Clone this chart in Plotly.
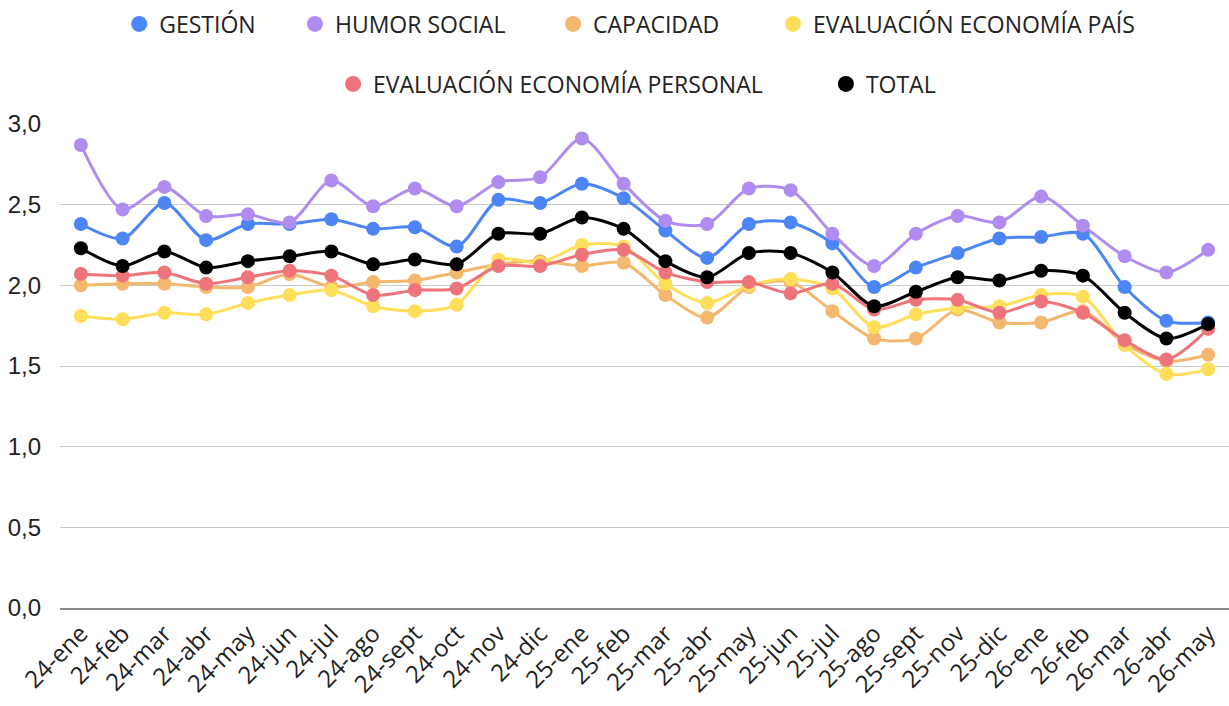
import plotly.graph_objects as go

categories = ["24-ene", "24-feb", "24-mar", "24-abr", "24-may", "24-jun", "24-jul", "24-ago",
              "24-sept", "24-oct", "24-nov", "24-dic", "25-ene", "25-feb", "25-mar", "25-abr",
              "25-may", "25-jun", "25-jul", "25-ago", "25-sept", "25-nov", "25-dic", "26-ene",
              "26-feb", "26-mar", "26-abr", "26-may"]

gestion = [2.38, 2.29, 2.51, 2.28, 2.38, 2.38, 2.41, 2.35, 2.36, 2.24, 2.53, 2.51, 2.63, 2.54,
           2.34, 2.17, 2.38, 2.39, 2.26, 1.99, 2.11, 2.20, 2.29, 2.30, 2.32, 1.99, 1.78, 1.77]
humor_social = [2.87, 2.47, 2.61, 2.43, 2.44, 2.39, 2.65, 2.49, 2.60, 2.49, 2.64, 2.67, 2.91, 2.63,
                2.40, 2.38, 2.60, 2.59, 2.32, 2.12, 2.32, 2.43, 2.39, 2.55, 2.37, 2.18, 2.08, 2.22]
capacidad = [2.00, 2.01, 2.01, 1.99, 1.99, 2.07, 1.99, 2.02, 2.03, 2.08, 2.13, 2.15, 2.12, 2.14,
             1.94, 1.80, 1.99, 2.02, 1.84, 1.67, 1.67, 1.85, 1.77, 1.77, 1.84, 1.64, 1.53, 1.57]
eco_pais = [1.81, 1.79, 1.83, 1.82, 1.89, 1.94, 1.97, 1.87, 1.84, 1.88, 2.16, 2.14, 2.25, 2.24,
            2.01, 1.89, 2.00, 2.04, 1.98, 1.74, 1.82, 1.86, 1.87, 1.94, 1.93, 1.63, 1.45, 1.48]
eco_personal = [2.07, 2.06, 2.08, 2.01, 2.05, 2.09, 2.06, 1.94, 1.97, 1.98, 2.12, 2.12, 2.19, 2.22,
                2.08, 2.02, 2.02, 1.95, 2.01, 1.85, 1.91, 1.91, 1.83, 1.90, 1.83, 1.66, 1.54, 1.73]
total = [2.23, 2.12, 2.21, 2.11, 2.15, 2.18, 2.21, 2.13, 2.16, 2.13, 2.32, 2.32, 2.42, 2.35,
         2.15, 2.05, 2.20, 2.20, 2.08, 1.87, 1.96, 2.05, 2.03, 2.09, 2.06, 1.83, 1.67, 1.76]

series_names = ["GESTIÓN", "HUMOR SOCIAL", "CAPACIDAD", "EVALUACIÓN ECONOMÍA PAÍS",
                "EVALUACIÓN ECONOMÍA PERSONAL", "TOTAL"]
series_values = [gestion, humor_social, capacidad, eco_pais, eco_personal, total]
colors = ["#4C85F5", "#B08CF1", "#F3B76E", "#FFDE59", "#EF737B", "#000000"]

# legend entry placement (container fractions): left x, center y
legend_x = [0.097, 0.240, 0.450, 0.629, 0.271, 0.672]
legend_y = [0.966, 0.966, 0.966, 0.966, 0.881, 0.881]

fig = go.Figure()
for name, vals, col in zip(series_names, series_values, colors):
    fig.add_trace(go.Scatter(
        x=categories, y=vals, name=name, mode="lines+markers",
        line=dict(color=col, width=3, shape="spline", smoothing=0.8),
        marker=dict(color=col, size=14),
        showlegend=False, hoverinfo="x+y+name"))

legend_font = dict(family="Open Sans, sans-serif", size=23, color="#222222")
legend_layout = {}
for i, (name, col) in enumerate(zip(series_names, colors)):
    lid = "legend" if i == 0 else f"legend{i + 1}"
    fig.add_trace(go.Scatter(
        x=[None], y=[None], name=name, mode="markers",
        marker=dict(color=col, size=22), legend=lid, showlegend=True))
    legend_layout[lid] = dict(
        orientation="h", xref="container", yref="container",
        x=legend_x[i], xanchor="left", y=legend_y[i], yanchor="middle",
        font=legend_font, itemwidth=30, bgcolor="rgba(0,0,0,0)")

fig.update_layout(
    width=1229, height=706,
    margin=dict(l=60, r=0, t=124, b=98),
    paper_bgcolor="white", plot_bgcolor="white",
    separators=",.",
    xaxis=dict(
        type="category", range=[-0.5, 27.5], tickangle=-45, showgrid=False, automargin=False,
        showline=True, linecolor="#8a8a8a", linewidth=2,
        tickfont=dict(family="Open Sans, sans-serif", size=24, color="#222222"),
        ticks="", fixedrange=True),
    yaxis=dict(
        range=[0, 3.0], dtick=0.5, tickformat=".1f", automargin=False,
        showgrid=True, gridcolor="#c8c8c8", gridwidth=1, zeroline=False,
        tickfont=dict(family="Liberation Sans, Arial, sans-serif", size=24, color="#222222"),
        ticklabelstandoff=18, fixedrange=True),
    **legend_layout,
)

fig.write_html("out.html", config={"displayModeBar": False},
               post_script="document.body.style.margin='0';")
